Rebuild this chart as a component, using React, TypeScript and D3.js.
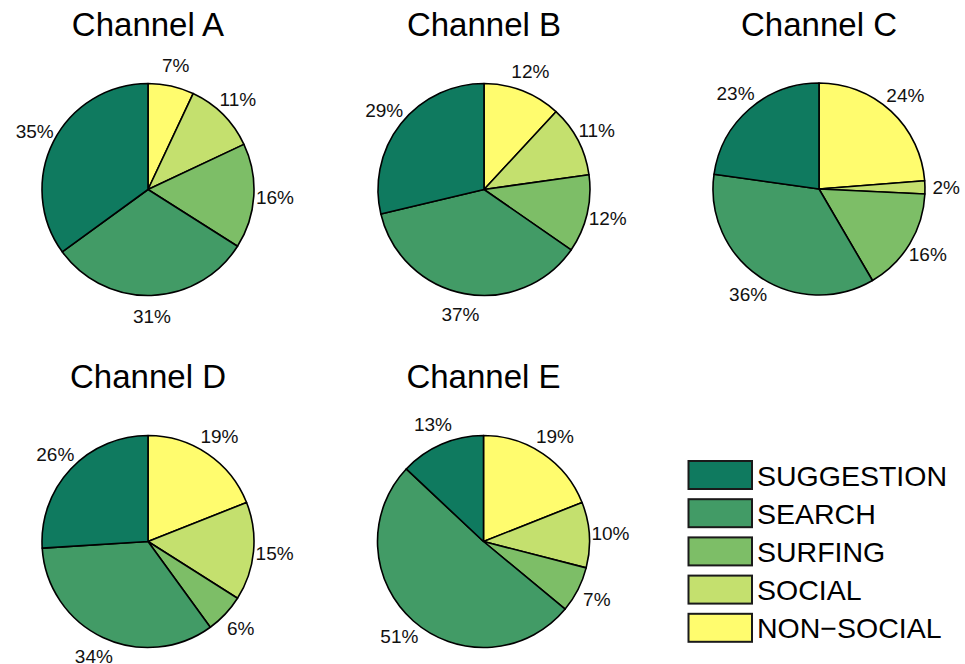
import React from "react";
import * as d3 from "d3";

const categories = ["NON-SOCIAL", "SOCIAL", "SURFING", "SEARCH", "SUGGESTION"];
const channels = ["Channel A", "Channel B", "Channel C", "Channel D", "Channel E"];
const valuesA = [7, 11, 16, 31, 35];
const valuesB = [12, 11, 12, 37, 29];
const valuesC = [24, 2, 16, 36, 23];
const valuesD = [19, 15, 6, 34, 26];
const valuesE = [19, 10, 7, 51, 13];
const seriesValues = [valuesA, valuesB, valuesC, valuesD, valuesE];
const legendOrder = ["SUGGESTION", "SEARCH", "SURFING", "SOCIAL", "NON-SOCIAL"];

const colors: Record<string, string> = {
  "SUGGESTION": "#0f7a5f",
  "SEARCH": "#429b66",
  "SURFING": "#7dbe67",
  "SOCIAL": "#c4e06e",
  "NON-SOCIAL": "#fffc6e",
};

const W = 965;
const H = 664;
const R = 106;
const FONT = "'Liberation Sans', Arial, Helvetica, sans-serif";

const centers = [
  { x: 148, y: 189.5 },
  { x: 484, y: 189.5 },
  { x: 819, y: 189 },
  { x: 148, y: 541.5 },
  { x: 483.5, y: 541.5 },
];
const titleY = [36, 36, 36, 388, 388];

export default function App() {
  const pie = d3.pie<number>().sort(null).value((d) => d);
  const arc = d3.arc<d3.PieArcDatum<number>>().innerRadius(0).outerRadius(R);

  return (
    <svg
      width={W}
      height={H}
      style={{ position: "absolute", left: 0, top: 0, background: "#fff" }}
      fontFamily={FONT}
    >
      {seriesValues.map((vals, i) => {
        const c = centers[i];
        const arcs = pie(vals);
        return (
          <g key={i}>
            <text
              x={c.x}
              y={titleY[i]}
              textAnchor="middle"
              fontSize={33}
              fill="#000"
            >
              {channels[i]}
            </text>
            <g transform={`translate(${c.x},${c.y})`}>
              {arcs.map((a, j) => (
                <path
                  key={j}
                  d={arc(a) || ""}
                  fill={colors[categories[j]]}
                  stroke="#000"
                  strokeWidth={1.6}
                  strokeLinejoin="round"
                />
              ))}
              {arcs.map((a, j) => {
                const mid = (a.startAngle + a.endAngle) / 2;
                const lx = Math.sin(mid) * R * 1.2;
                const ly = -Math.cos(mid) * R * 1.2;
                return (
                  <text
                    key={"l" + j}
                    x={lx}
                    y={ly}
                    textAnchor="middle"
                    dominantBaseline="central"
                    fontSize={19}
                    fill="#111"
                  >
                    {vals[j]}%
                  </text>
                );
              })}
            </g>
          </g>
        );
      })}
      <g>
        {legendOrder.map((name, k) => {
          const y0 = 461 + k * 38.2;
          return (
            <g key={name}>
              <rect
                x={688.5}
                y={y0}
                width={63.5}
                height={28}
                fill={colors[name]}
                stroke="#1a1a1a"
                strokeWidth={2}
              />
              <text
                x={757}
                y={y0 + 14.5}
                dominantBaseline="central"
                fontSize={28.5}
                fill="#000"
              >
                {name === "NON-SOCIAL" ? "NON\u2212SOCIAL" : name}
              </text>
            </g>
          );
        })}
      </g>
    </svg>
  );
}
